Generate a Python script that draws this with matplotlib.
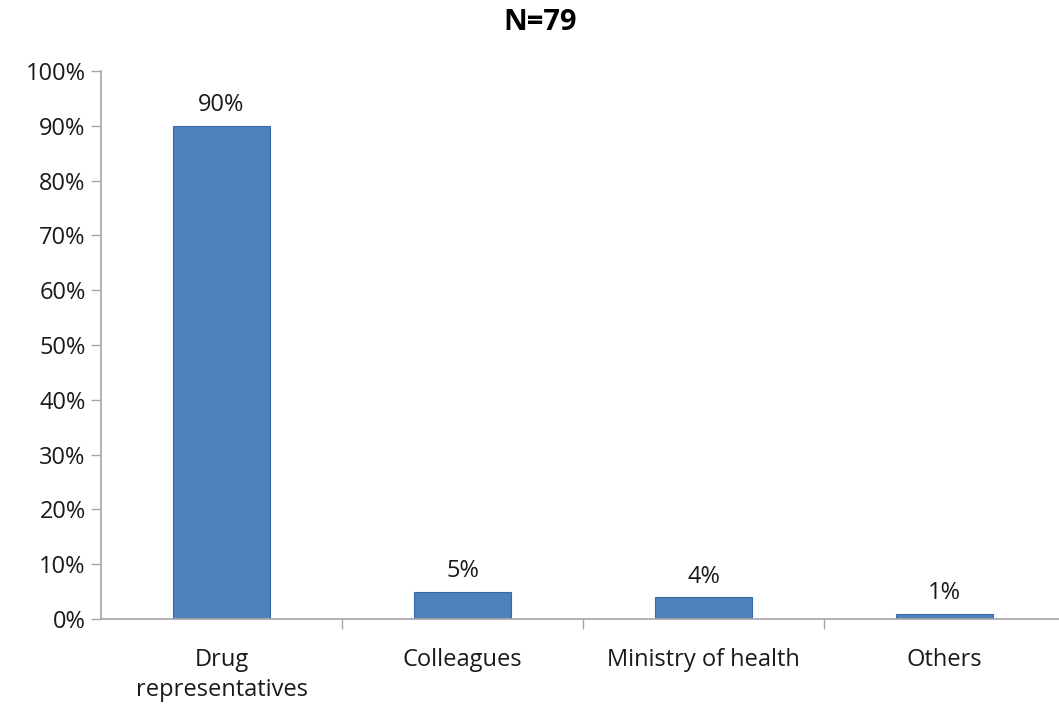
import matplotlib.pyplot as plt
from matplotlib.ticker import FixedLocator

categories = ['Drug\nrepresentatives', 'Colleagues', 'Ministry of health', 'Others']
values = [90, 5, 4, 1]
y_ticks = [0, 10, 20, 30, 40, 50, 60, 70, 80, 90, 100]

plt.rcParams['font.family'] = ['Open Sans', 'DejaVu Sans']

fig = plt.figure(figsize=(10.59, 7.11), dpi=100)
ax = fig.add_axes([101 / 1059, 92 / 711, 964 / 1059, 548 / 711])

x = list(range(len(categories)))
ax.bar(x, values, width=0.4, color='#4f81bd', edgecolor='#3a6aa5', linewidth=0.8)

for xi, v in zip(x, values):
    ax.annotate(f'{v}%', (xi, v), xytext=(0, 6), textcoords='offset points',
                ha='center', va='bottom', fontsize=17, color='#1a1a1a')

ax.set_xlim(-0.5, len(categories) - 0.5)
ax.set_ylim(0, 100)
ax.set_yticks(y_ticks)
ax.set_yticklabels([f'{t}%' for t in y_ticks])

# category labels at centres, tick marks at boundaries
ax.xaxis.set_major_locator(FixedLocator([i + 0.5 for i in range(len(categories))]))
ax.xaxis.set_minor_locator(FixedLocator(x))
ax.set_xticklabels([''] * len(categories))
ax.set_xticklabels(categories, minor=True, linespacing=1.35)
ax.tick_params(axis='x', which='major', length=7, color='#a6a6a6', width=1)
ax.tick_params(axis='x', which='minor', length=0, pad=21, labelsize=17, colors='#1a1a1a')
ax.tick_params(axis='y', length=7, color='#a6a6a6', width=1, labelsize=17, labelcolor='#1a1a1a', pad=4)

for s in ['top', 'right']:
    ax.spines[s].set_visible(False)
for s in ['left', 'bottom']:
    ax.spines[s].set_color('#a6a6a6')
    ax.spines[s].set_linewidth(1.2)

fig.text(540 / 1059, 1 - 23 / 711, 'N=79', ha='center', va='center', fontsize=21, fontweight='bold')

fig.savefig('out.png', dpi=100)
